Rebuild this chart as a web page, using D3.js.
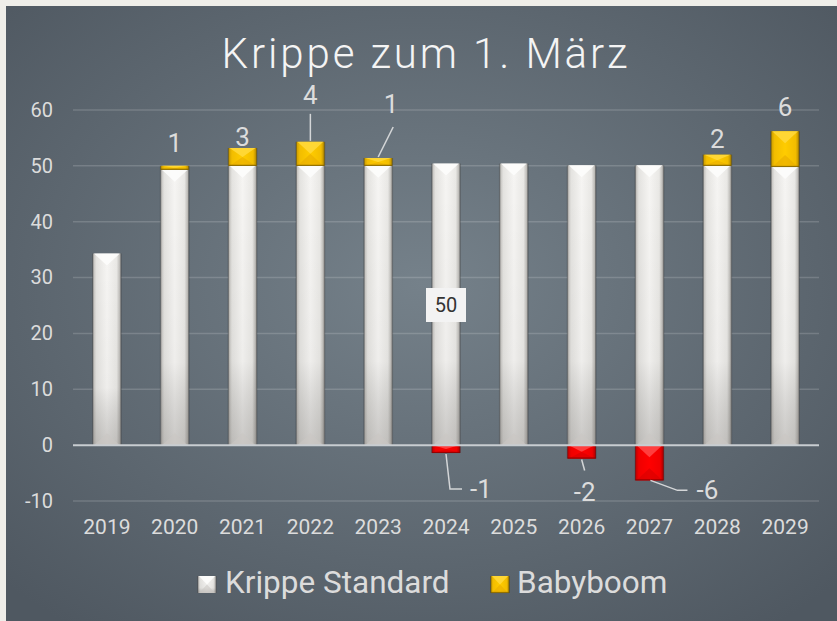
<!DOCTYPE html>
<html><head><meta charset="utf-8">
<script src="https://cdn.jsdelivr.net/npm/d3@7"></script>
<style>html,body{margin:0;padding:0;background:#efeee9;}svg{display:block;font-family:Roboto,"Noto Sans",sans-serif;}</style>
</head><body>
<script>
// ---- data ----
const years = ["2019","2020","2021","2022","2023","2024","2025","2026","2027","2028","2029"];
const krippeStandard = [34.3, 49.3, 50, 50, 50, 50.4, 50.4, 50.1, 50.1, 50, 49.8];
const babyboom = [0, 0.7, 3.2, 4.3, 1.4, -1.4, 0, -2.4, -6.3, 2, 6.4];
const yTicks = [-10, 0, 10, 20, 30, 40, 50, 60];
const seriesNames = ["Krippe Standard", "Babyboom"];
const titleText = "Krippe zum 1. März";
const tooltipIndex = 5;

// ---- layout for labels (offsets from the bar end) ----
const labelLayout = {
  1: {dx:0, dy:-14, anchor:"middle"},
  2: {dx:0, dy:-2, anchor:"middle"},
  3: {dx:0, dy:-38, anchor:"middle", line:[[0,-1],[0,-28]]},
  4: {dx:13, dy:-45, anchor:"middle", line:[[0,-1],[15,-31]]},
  5: {dx:24, dy:45, anchor:"start", line:[[0,1],[4,36],[16,36]]},
  7: {dx:3, dy:42, anchor:"middle", line:[[0,1],[3,12]]},
  8: {dx:47, dy:19, anchor:"start", line:[[1,0],[28,10],[38,10]]},
  9: {dx:0, dy:-7, anchor:"middle"},
  10:{dx:0, dy:-15, anchor:"middle"}
};

const W = 837, H = 621;
const svg = d3.select("body").append("svg").attr("width", W).attr("height", H);
const defs = svg.append("defs");

// background
const bg = defs.append("radialGradient").attr("id","bg").attr("cx","50%").attr("cy","45%").attr("r","70%");
bg.append("stop").attr("offset","0%").attr("stop-color","#75818a");
bg.append("stop").attr("offset","100%").attr("stop-color","#4f5861");
svg.append("rect").attr("x",0).attr("y",0).attr("width",W).attr("height",H).attr("fill","#efeee9");
svg.append("rect").attr("x",6).attr("y",6).attr("width",W-6).attr("height",H-6).attr("fill","url(#bg)");

// gradients for bars
function hGrad(id, stops){
  const g = defs.append("linearGradient").attr("id",id).attr("x1","0").attr("x2","1").attr("y1","0").attr("y2","0");
  stops.forEach(s=>g.append("stop").attr("offset",s[0]).attr("stop-color",s[1]));
}
function vGrad(id, stops){
  const g = defs.append("linearGradient").attr("id",id).attr("x1","0").attr("x2","0").attr("y1","0").attr("y2","1");
  stops.forEach(s=>g.append("stop").attr("offset",s[0]).attr("stop-color",s[1]).attr("stop-opacity", s[2]===undefined?1:s[2]));
}
hGrad("wh", [["0","#bdbbb7"],["0.12","#e4e3e0"],["0.5","#f6f5f3"],["0.85","#e9e8e5"],["1","#aeaca8"]]);
vGrad("whv", [["0","#000",0],["0.7","#000",0.03],["1","#403c38",0.24]]);
hGrad("gd", [["0","#c99b00"],["0.12","#f2bd00"],["0.5","#ffcc00"],["0.88","#f2bd00"],["1","#b58a00"]]);
hGrad("rd", [["0","#c00000"],["0.12","#f00000"],["0.5","#ff0000"],["0.88","#f00000"],["1","#b00000"]]);

const palette = {
  white: {fill:"url(#wh)", top:"#fdfdfc", bottom:"#c9c7c3", edge:"#6b6b6b", overlay:true},
  gold:  {fill:"url(#gd)", top:"#ffd83a", bottom:"#e8ac00", edge:"#7d6000"},
  red:   {fill:"url(#rd)", top:"#ff4545", bottom:"#d60000", edge:"#8a0000"}
};

// number format with a plain hyphen for negatives
const fmt = v => d3.format(".0f")(v).replace("\u2212","-");

// scales
const x = d3.scaleBand().domain(years).range([73, 819]).paddingInner(0.59).paddingOuter(0.295);
const y = d3.scaleLinear().domain([-10, 60]).range([501, 110]);

// gridlines
const grid = svg.append("g");
grid.selectAll("line").data(yTicks.filter(t=>t!==0)).join("line")
  .attr("x1",73).attr("x2",819).attr("y1",d=>y(d)).attr("y2",d=>y(d))
  .attr("stroke","#ffffff").attr("stroke-opacity",0.16).attr("stroke-width",1.5);

// y axis labels
const yAxis = svg.append("g").attr("transform","translate(53,0)")
  .call(d3.axisLeft(y).tickValues(yTicks).tickSize(0).tickPadding(0).tickFormat(fmt));
yAxis.select(".domain").remove();
yAxis.selectAll("text").attr("fill","#dcdcdc").attr("font-size",20).attr("font-family","Roboto");

// x axis labels
const xAxis = svg.append("g").attr("transform","translate(0,519)")
  .call(d3.axisBottom(x).tickSize(0).tickPadding(0));
xAxis.select(".domain").remove();
xAxis.selectAll("text").attr("fill","#dcdcdc").attr("font-size",21).attr("font-family","Roboto").attr("dy","0.71em");

// stack
const rows = years.map((yr,i)=>({year:yr, std:krippeStandard[i], boom:babyboom[i]}));
const stack = d3.stack().keys(["std","boom"]).offset(d3.stackOffsetDiverging)(rows);

function drawBar(g, x0, w, yTop, yBot, pal){
  const h = yBot - yTop;
  if (h <= 0.2) return;
  const d = Math.min(12, h/2);
  g.append("rect").attr("x",x0-1).attr("y",yTop).attr("width",w+2).attr("height",h).attr("fill","#000").attr("opacity",0.18);
  g.append("rect").attr("x",x0).attr("y",yTop).attr("width",w).attr("height",h).attr("fill",pal.fill);
  if (pal.overlay) g.append("rect").attr("x",x0).attr("y",yTop).attr("width",w).attr("height",h).attr("fill","url(#whv)");
  g.append("polygon").attr("points",[[x0+1,yTop],[x0+w-1,yTop],[x0+w/2,yTop+d]].join(" ")).attr("fill",pal.top).attr("opacity",0.9);
  g.append("polygon").attr("points",[[x0+1,yBot],[x0+w-1,yBot],[x0+w/2,yBot-d]].join(" ")).attr("fill",pal.bottom).attr("opacity",0.6);
  g.append("line").attr("x1",x0).attr("x2",x0).attr("y1",yTop).attr("y2",yBot).attr("stroke",pal.edge).attr("stroke-width",1).attr("opacity",0.6);
  g.append("line").attr("x1",x0+w).attr("x2",x0+w).attr("y1",yTop).attr("y2",yBot).attr("stroke",pal.edge).attr("stroke-width",1).attr("opacity",0.7);
  if (pal !== palette.white) {
    g.append("line").attr("x1",x0).attr("x2",x0+w).attr("y1",yBot-0.5).attr("y2",yBot-0.5).attr("stroke",pal.edge).attr("stroke-width",1.2).attr("opacity",0.8);
  }
}

const barsG = svg.append("g");
stack.forEach((layer, li)=>{
  layer.forEach((seg, i)=>{
    const v = li===0 ? krippeStandard[i] : babyboom[i];
    if (v === 0) return;
    const yTop = y(Math.max(seg[0], seg[1]));
    const yBot = y(Math.min(seg[0], seg[1]));
    const pal = li===0 ? palette.white : (v < 0 ? palette.red : palette.gold);
    drawBar(barsG, x(years[i]), x.bandwidth(), yTop, yBot, pal);
  });
});

// zero line
svg.append("line").attr("x1",73).attr("x2",819).attr("y1",y(0)).attr("y2",y(0))
  .attr("stroke","#c8cdd1").attr("stroke-width",2);

// data labels
const lab = svg.append("g");
babyboom.forEach((v,i)=>{
  if (v === 0) return;
  const cx = x(years[i]) + x.bandwidth()/2;
  const seg = stack[1][i];
  const anchorY = v > 0 ? y(Math.max(seg[0],seg[1])) : y(Math.min(seg[0],seg[1]));
  const L = labelLayout[i] || {dx:0, dy:-8, anchor:"middle"};
  if (L.line) {
    lab.append("polyline").attr("points", L.line.map(p=>[cx+p[0], anchorY+p[1]].join(",")).join(" "))
      .attr("fill","none").attr("stroke","#d4d6d8").attr("stroke-width",1.5);
  }
  lab.append("text").attr("x",cx+L.dx).attr("y",anchorY+L.dy).attr("text-anchor",L.anchor)
    .attr("fill","#dcdcdc").attr("font-size",26).attr("font-family","Roboto").text(fmt(v));
});

// title
svg.append("text").attr("x",426).attr("y",68).attr("text-anchor","middle")
  .attr("fill","#f4f4f4").attr("font-size",42).attr("font-weight",300).attr("letter-spacing",2.9)
  .attr("font-family","Roboto").text(titleText);

// tooltip
const tx = x(years[tooltipIndex]) + x.bandwidth()/2;
const tip = svg.append("g");
tip.append("rect").attr("x",tx-20).attr("y",288).attr("width",40).attr("height",34).attr("fill","#f3f3f3");
tip.append("text").attr("x",tx).attr("y",305).attr("dy","0.35em").attr("text-anchor","middle")
  .attr("fill","#333").attr("font-size",20).attr("font-family","Roboto").text(fmt(krippeStandard[tooltipIndex]));

// legend
const legendItems = [
  {name:seriesNames[0], pal:palette.white, ix:198, tx:225},
  {name:seriesNames[1], pal:palette.gold, ix:491, tx:517}
];
const leg = svg.append("g");
legendItems.forEach(it=>{
  drawBar(leg, it.ix, 18, 576, 593, it.pal);
  leg.append("text").attr("x",it.tx).attr("y",593).attr("fill","#dcdcdc")
    .attr("font-size",31.5).attr("font-family","Roboto").text(it.name);
});
</script>
</body></html>
